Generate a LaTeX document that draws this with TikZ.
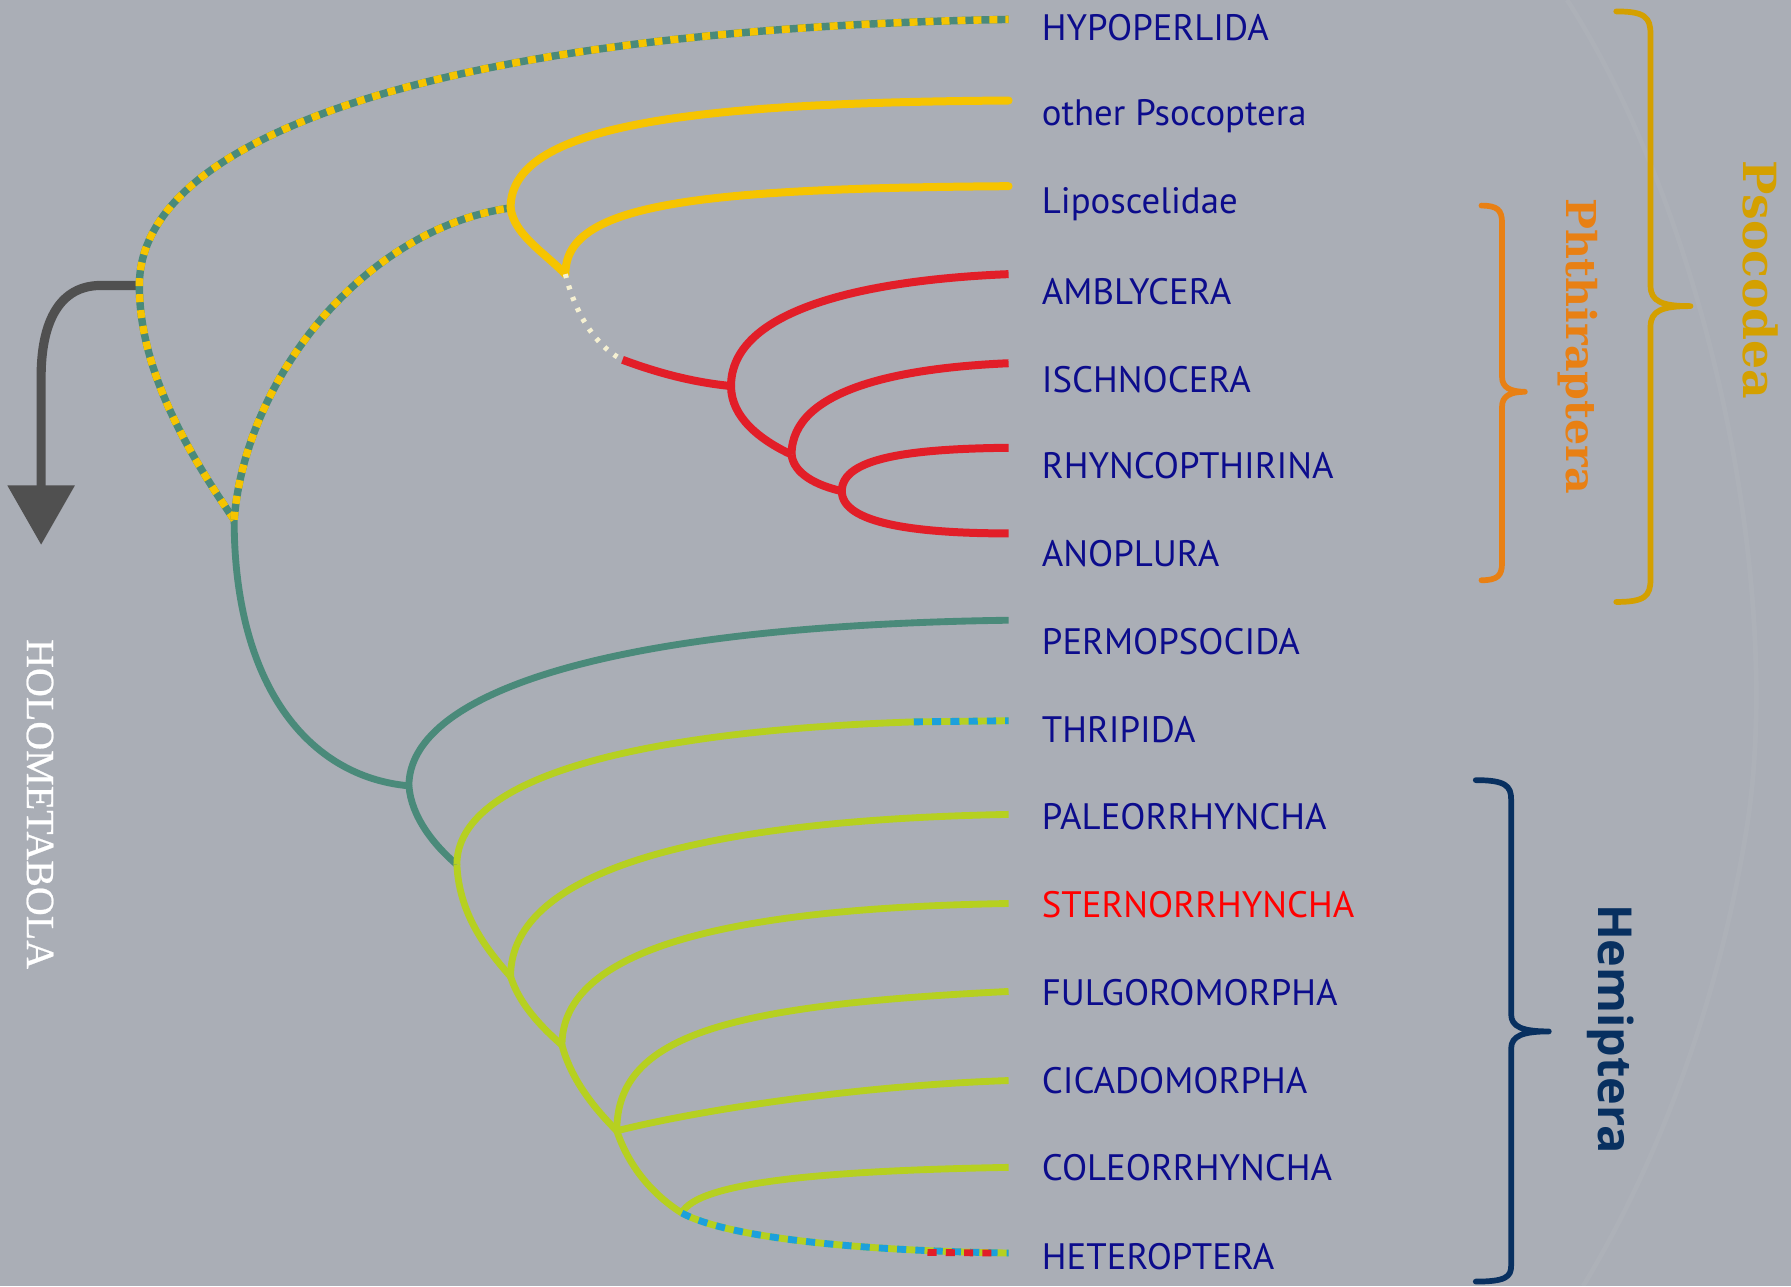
\documentclass[tikz,border=0pt]{standalone}
\usepackage{fontspec}
\usepackage{xcolor}
\usetikzlibrary{arrows.meta}
\newfontfamily\taxonfont{PT Sans}
\newfontfamily\cladefont{DejaVu Serif}
\newfontfamily\hemifont{Open Sans}
\newfontfamily\holofont[FakeBold=0.6]{Liberation Serif}
\definecolor{BgGray}{RGB}{170,174,182}
\definecolor{TaxonBlue}{RGB}{12,12,140}
\definecolor{PsocYellow}{RGB}{246,196,0}
\definecolor{LouseRed}{RGB}{226,30,40}
\definecolor{StemTeal}{RGB}{74,138,122}
\definecolor{BugGreen}{RGB}{182,208,32}
\definecolor{DashCyan}{RGB}{28,160,220}
\definecolor{DotCream}{RGB}{245,240,210}
\definecolor{ArrowGray}{RGB}{80,80,80}
\definecolor{PsocGold}{RGB}{212,160,0}
\definecolor{PhthOrange}{RGB}{232,128,20}
\definecolor{HemiNavy}{RGB}{8,48,96}

\begin{document}
\begin{tikzpicture}[x=1pt,y=-1pt,
    taxon/.style={anchor=west,text=TaxonBlue,inner sep=0pt,
                  font=\taxonfont\fontsize{32.2}{32.2}\selectfont},
    yellowline/.style={draw=PsocYellow,line width=7pt,line cap=round},
    redline/.style={draw=LouseRed,line width=7pt},
    tealline/.style={draw=StemTeal,line width=6pt},
    greenline/.style={draw=BugGreen,line width=6pt},
    mixline/.style={draw=StemTeal,line width=6.5pt,
                    postaction={draw=PsocYellow,dash pattern=on 7pt off 7pt}},
    bugmix/.style={draw=BugGreen,line width=6pt,
                   postaction={draw=DashCyan,dash pattern=on 8pt off 8pt}},
    creamdots/.style={draw=DotCream,line width=4.5pt,dash pattern=on 3.5pt off 7pt},
    bracket/.style={line width=5pt,line cap=round,line join=round}
  ]
  \fill[BgGray] (0,0) rectangle (1568,1126);
  \useasboundingbox (0,0) rectangle (1568,1126);
  % faint sheen in the background
  \draw[white,opacity=0.04,line width=4pt]
    (1372,0) .. controls (1500,200) and (1560,520) .. (1530,720)
    .. controls (1505,880) and (1450,1020) .. (1386,1126);

  % tree nodes
  \coordinate (root) at (205,455);
  \coordinate (holo) at (122,250);
  \coordinate (psoc) at (447,182);
  \coordinate (lipo) at (495,240);
  \coordinate (lousestem) at (545,315);
  \coordinate (louse) at (640,338);
  \coordinate (isch) at (693,398);
  \coordinate (rhyn) at (737,430);
  \coordinate (perm) at (358,688);
  \coordinate (condy) at (400,757);
  \coordinate (hemi1) at (447,855);
  \coordinate (hemi2) at (492,915);
  \coordinate (hemi3) at (540,990);
  \coordinate (hemi4) at (597,1062);
  \coordinate (thripdash) at (800,632);

  % taxa
  \node[taxon] (hypoperlida) at (912,24) {HYPOPERLIDA};
  \node[taxon] (otherpsoc) at (912,102) {other Psocoptera};
  \node[taxon] (liposcelidae) at (912,179) {Liposcelidae};
  \node[taxon] (amblycera) at (912,255) {AMBLYCERA};
  \node[taxon] (ischnocera) at (912,332) {ISCHNOCERA};
  \node[taxon] (rhyncopthirina) at (912,408) {RHYNCOPTHIRINA};
  \node[taxon] (anoplura) at (912,485) {ANOPLURA};
  \node[taxon] (permopsocida) at (912,562) {PERMOPSOCIDA};
  \node[taxon] (thripida) at (912,639) {THRIPIDA};
  \node[taxon] (paleorrhyncha) at (912,715) {PALEORRHYNCHA};
  \node[taxon,text=red] (sternorrhyncha) at (912,792) {STERNORRHYNCHA};
  \node[taxon] (fulgoromorpha) at (912,869) {FULGOROMORPHA};
  \node[taxon] (cicadomorpha) at (912,946) {CICADOMORPHA};
  \node[taxon] (coleorrhyncha) at (912,1022) {COLEORRHYNCHA};
  \node[taxon] (heteroptera) at (912,1100) {HETEROPTERA};

  % tips of the branches
  \coordinate (tipH) at (883,17);
  \coordinate (tipO) at (883,88);
  \coordinate (tipL) at (883,163);
  \coordinate (tipAm) at (883,240);
  \coordinate (tipIs) at (883,318);
  \coordinate (tipRh) at (883,392);
  \coordinate (tipAn) at (883,467);
  \coordinate (tipPe) at (883,543);
  \coordinate (tipTh) at (883,631);
  \coordinate (tipPa) at (883,713);
  \coordinate (tipSt) at (883,791);
  \coordinate (tipFu) at (883,868);
  \coordinate (tipCi) at (883,946);
  \coordinate (tipCo) at (883,1022);
  \coordinate (tipHe) at (883,1097);

  % Holometabola arrow
  \draw[ArrowGray,line width=8pt,-{Triangle[length=52pt,width=57pt]}]
    (holo) -- (85,250) .. controls (50,252) and (36,285) .. (36,330) -- (36,477);
  \node[rotate=-90,text=white,font=\holofont\fontsize{35}{35}\selectfont]
    (holometabola) at (35,704) {HOLOMETABOLA};

  % stem and Permopsocida
  \draw[tealline] (root) .. controls (205,600) and (270,680) .. (perm);
  \draw[tealline] (perm) .. controls (358,610) and (520,548) .. (tipPe);
  \draw[tealline] (perm) .. controls (360,715) and (380,740) .. (condy);

  % Psocodea
  \draw[mixline] (root) .. controls (160,390) and (122,320) .. (holo)
    .. controls (122,110) and (420,25) .. (tipH);
  \draw[mixline] (root) .. controls (215,330) and (320,200) .. (psoc);
  \draw[yellowline] (psoc) .. controls (447,110) and (600,90) .. (tipO);
  \draw[yellowline] (psoc) .. controls (450,205) and (475,220) .. (lipo);
  \draw[yellowline] (lipo) .. controls (495,180) and (600,165) .. (tipL);
  \draw[creamdots] (lipo) .. controls (505,280) and (525,305) .. (lousestem);

  % Phthiraptera
  \draw[redline] (lousestem) .. controls (580,328) and (610,335) .. (louse);
  \draw[redline] (louse) .. controls (640,270) and (760,245) .. (tipAm);
  \draw[redline] (louse) .. controls (640,365) and (665,385) .. (isch);
  \draw[redline] (isch) .. controls (693,340) and (790,322) .. (tipIs);
  \draw[redline] (isch) .. controls (695,415) and (715,425) .. (rhyn);
  \draw[redline] (rhyn) .. controls (737,400) and (800,393) .. (tipRh);
  \draw[redline] (rhyn) .. controls (737,458) and (800,467) .. (tipAn);

  % Thripida and Hemiptera
  \draw[greenline] (condy) .. controls (400,680) and (560,640) .. (thripdash);
  \draw[bugmix] (thripdash) -- (tipTh);
  \draw[greenline] (condy) .. controls (402,800) and (425,830) .. (hemi1);
  \draw[greenline] (hemi1) .. controls (447,760) and (620,718) .. (tipPa);
  \draw[greenline] (hemi1) .. controls (455,880) and (475,900) .. (hemi2);
  \draw[greenline] (hemi2) .. controls (492,830) and (640,795) .. (tipSt);
  \draw[greenline] (hemi2) .. controls (500,945) and (520,970) .. (hemi3);
  \draw[greenline] (hemi3) .. controls (540,905) and (640,880) .. (tipFu);
  \draw[greenline] (hemi3) .. controls (620,970) and (760,950) .. (tipCi);
  \draw[greenline] (hemi3) .. controls (550,1020) and (570,1045) .. (hemi4);
  \draw[greenline] (hemi4) .. controls (610,1035) and (720,1025) .. (tipCo);
  \draw[bugmix] (hemi4) .. controls (640,1085) and (760,1095) .. (tipHe);
  \draw[draw=LouseRed,line width=6pt,dash pattern=on 8pt off 8pt]
    (812,1096.5) -- (870,1097);

  % brackets
  \draw[bracket,PsocGold] (1415,10) .. controls (1440,10) and (1445,15) .. (1445,30)
    -- (1445,250) .. controls (1445,264) and (1455,268) .. (1480,268)
    .. controls (1455,268) and (1445,272) .. (1445,286)
    -- (1445,507) .. controls (1445,522) and (1440,527) .. (1415,527);
  \node[rotate=-90,text=PsocGold,font=\cladefont\bfseries\fontsize{40}{40}\selectfont]
    (psocodea) at (1541,245) {Psocodea};
  \draw[bracket,PhthOrange] (1297,180) .. controls (1311,180) and (1315,184) .. (1315,195)
    -- (1315,330) .. controls (1315,339) and (1322,343) .. (1335,343)
    .. controls (1322,343) and (1315,347) .. (1315,356)
    -- (1315,493) .. controls (1315,504) and (1311,508) .. (1297,508);
  \node[rotate=-90,text=PhthOrange,font=\cladefont\bfseries\fontsize{36}{36}\selectfont]
    (phthiraptera) at (1381,303) {Phthiraptera};
  \draw[bracket,HemiNavy] (1292,683) .. controls (1318,683) and (1323,688) .. (1323,700)
    -- (1323,888) .. controls (1323,899) and (1333,903) .. (1356,903)
    .. controls (1333,903) and (1323,907) .. (1323,918)
    -- (1323,1108) .. controls (1323,1118) and (1318,1122) .. (1292,1122);
  \node[rotate=-90,text=HemiNavy,font=\hemifont\bfseries\fontsize{41}{41}\selectfont]
    (hemiptera) at (1410,901) {Hemiptera};
\end{tikzpicture}
\end{document}
